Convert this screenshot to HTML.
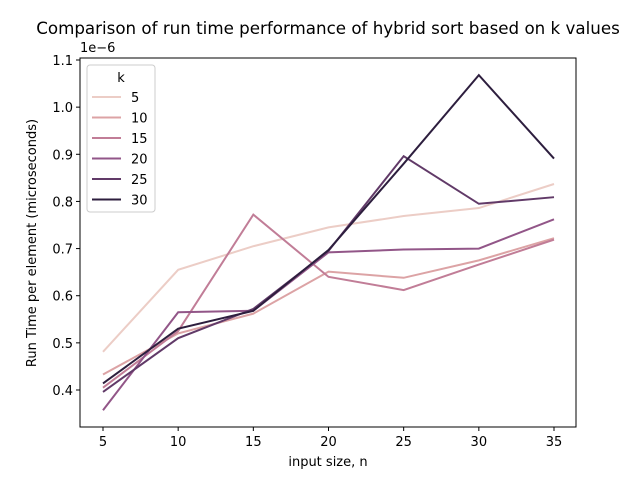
<!DOCTYPE html>
<html><head><meta charset="utf-8"><style>
body{margin:0;background:#fff;font-family:"Liberation Sans","DejaVu Sans",sans-serif}
</style></head><body>
<svg id="c" width="640" height="480" xmlns="http://www.w3.org/2000/svg" font-family="DejaVu Sans, Liberation Sans, sans-serif">
<rect width="640" height="480" fill="#fff"/>
<text x="328" y="34" font-size="16.7" text-anchor="middle">Comparison of run time performance of hybrid sort based on k values</text>
<g id="plot"></g>
</svg>
<script>
const xs = [5,10,15,20,25,30,35];
const ks = ["5","10","15","20","25","30"];
const s5 = [0.481,0.655,0.705,0.745,0.769,0.786,0.837];
const s10 = [0.433,0.520,0.562,0.651,0.638,0.675,0.722];
const s15 = [0.405,0.525,0.772,0.640,0.612,0.666,0.719];
const s20 = [0.357,0.565,0.568,0.692,0.698,0.700,0.762];
const s25 = [0.396,0.510,0.572,0.695,0.896,0.795,0.809];
const s30 = [0.414,0.530,0.568,0.697,0.880,1.068,0.891];
const xTicks = [5,10,15,20,25,30,35];
const yTicks = [0.4,0.5,0.6,0.7,0.8,0.9,1.0,1.1];
const series = [s5,s10,s15,s20,s25,s30];
const colors = ['#eccdc6','#dca3a5','#c17d97','#925688','#613a68','#2d1e3e'];
const NS='http://www.w3.org/2000/svg';
const L=80,R=576,T=58,B=427;
const X=v=>103+(v-5)*(554-103)/30;
const Y=v=>390-(v-0.4)*(390-60)/0.7;
const g=document.getElementById('plot');
function el(t,a,p){const e=document.createElementNS(NS,t);for(const k in a)e.setAttribute(k,a[k]);(p||g).appendChild(e);return e;}
series.forEach((s,i)=>{
  const p=el('polyline',{points:s.map((v,j)=>X(xs[j])+','+Y(v)).join(' '),fill:'none',stroke:colors[i],'stroke-width':2});
  
  
});
const fr=el('rect',{x:L,y:T,width:R-L,height:B-T,fill:'none',stroke:'#000','stroke-width':1});


xTicks.forEach(v=>{
  el('line',{x1:X(v),x2:X(v),y1:B,y2:B+4,stroke:'#000'});
  const t=el('text',{x:X(v),y:B+19,'font-size':13,'text-anchor':'middle'});t.textContent=v;
  
  
});
yTicks.forEach(v=>{
  el('line',{x1:L-4,x2:L,y1:Y(v),y2:Y(v),stroke:'#000'});
  const t=el('text',{x:L-7,y:Y(v)+5,'font-size':13,'text-anchor':'end'});t.textContent=v.toFixed(1);
  
  
});
let t=el('text',{x:80,y:52,'font-size':13});t.textContent='1e\u22126';


t=el('text',{x:328,y:466,'font-size':13,'text-anchor':'middle'});t.textContent='input size, n';


t=el('text',{x:36,y:243,'font-size':13,'text-anchor':'middle',transform:'rotate(-90 36 243)'});t.textContent='Run Time per element (microseconds)';


const lg=el('rect',{x:87,y:65,width:68,height:147,fill:'#fff',stroke:'#ccc',rx:3});


t=el('text',{x:121,y:82,'font-size':13,'text-anchor':'middle'});t.textContent='k';


ks.forEach((k,i)=>{
  const y=97+i*20.5;
  el('line',{x1:92,x2:121,y1:y,y2:y,stroke:colors[i],'stroke-width':2});
  const tt=el('text',{x:131,y:y+5,'font-size':13});tt.textContent=k;
  
  
});
</script>
</body></html>
